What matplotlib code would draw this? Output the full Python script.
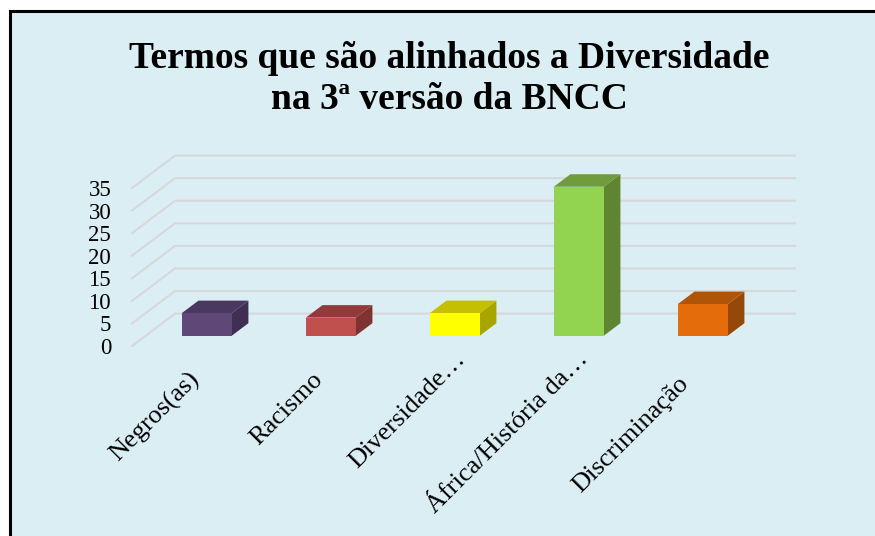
#!/usr/bin/env python3
"""Oblique 3D-look column chart, drawn on plain 2D axes."""
import matplotlib
matplotlib.use("Agg")
import matplotlib.pyplot as plt
from matplotlib.patches import Polygon, Rectangle
from matplotlib.transforms import ScaledTranslation

plt.rcParams["font.family"] = ["Liberation Serif", "DejaVu Serif"]

TITLE = "Termos que são alinhados a Diversidade\nna 3ª versão da BNCC"
categories = ["Negros(as)", "Racismo", "Diversidade…", "África/História da…", "Discriminação"]
values = [5, 4, 5, 33, 7]
y_ticks = [0, 5, 10, 15, 20, 25, 30, 35]

front_colors = ["#5F4778", "#C0504D", "#FFFF00", "#92D350", "#E46C0A"]
top_colors = ["#4B3860", "#93393A", "#C4C000", "#709C3E", "#B05507"]
side_colors = ["#3F2F52", "#7F3231", "#A8A400", "#5F8532", "#954808"]

BG = "#DBEEF4"
GRID = "#D6D8DA"
DX, DY = 0.347, 7.18     # shift of the full floor depth, in data units
BAR_W = 0.403
BAR_SHIFT = -0.007
D0, D1 = 0.318, 0.704    # bar front/back as share of the floor depth
# label nudges in pixels, the cut-off labels sit further along their slant
LABEL_DX = [-6, -6, 12, 11, -12]
LABEL_DY = [0, 0, 20, 20, -4]


def proj(x, v, d):
    return x + d * DX, v + d * DY


fig = plt.figure(figsize=(8.75, 5.36), dpi=100, facecolor="white")
W, H = 875, 536
fig.add_artist(Rectangle((9.5 / W, -0.05), 900 / W, (H - 11) / H + 0.05, transform=fig.transFigure,
                         facecolor=BG, edgecolor="black", linewidth=2.2, zorder=-1))
ax = fig.add_axes([132 / W, (H - 346) / H, 620 / W, 158 / H])
ax.patch.set_alpha(0)
ax.set_xlim(-0.5, 4.5)
ax.set_ylim(0, 35)
for s in ax.spines.values():
    s.set_visible(False)

# walls
for v in y_ticks:
    pts = [proj(-0.5, v, 0), proj(-0.5, v, 1), proj(4.5, v, 1)]
    ax.plot(*zip(*pts), color=GRID, lw=1.5, clip_on=False, zorder=1, solid_joinstyle="miter")

# boxes
for i, v in enumerate(values):
    l, r = i + BAR_SHIFT - BAR_W / 2, i + BAR_SHIFT + BAR_W / 2
    front = [proj(l, 0, D0), proj(r, 0, D0), proj(r, v, D0), proj(l, v, D0)]
    top = [proj(l, v, D0), proj(r, v, D0), proj(r, v, D1), proj(l, v, D1)]
    side = [proj(r, 0, D0), proj(r, 0, D1), proj(r, v, D1), proj(r, v, D0)]
    ax.add_patch(Polygon(side, facecolor=side_colors[i], edgecolor="none", clip_on=False, zorder=3))
    ax.add_patch(Polygon(top, facecolor=top_colors[i], edgecolor="none", clip_on=False, zorder=3))
    ax.add_patch(Polygon(front, facecolor=front_colors[i], edgecolor="none", clip_on=False, zorder=4))

ax.set_yticks(y_ticks)
ax.set_xticks(range(len(categories)))
ax.set_xticklabels(categories, rotation=45, ha="right", va="top", rotation_mode="anchor")
ax.tick_params(axis="x", length=0, labelsize=19, labelcolor="black", pad=16)
ax.tick_params(axis="y", length=0, labelsize=16.5, labelcolor="black", pad=15)
for lab, dx, dy in zip(ax.get_xticklabels(), LABEL_DX, LABEL_DY):
    lab.set_transform(lab.get_transform() + ScaledTranslation(dx / 100, dy / 100, fig.dpi_scale_trans))

fig.text(449 / W, (H - 79) / H, TITLE, ha="center", va="center", fontsize=27,
         fontweight="bold", linespacing=1.22)

fig.savefig("out.png", dpi=100)
